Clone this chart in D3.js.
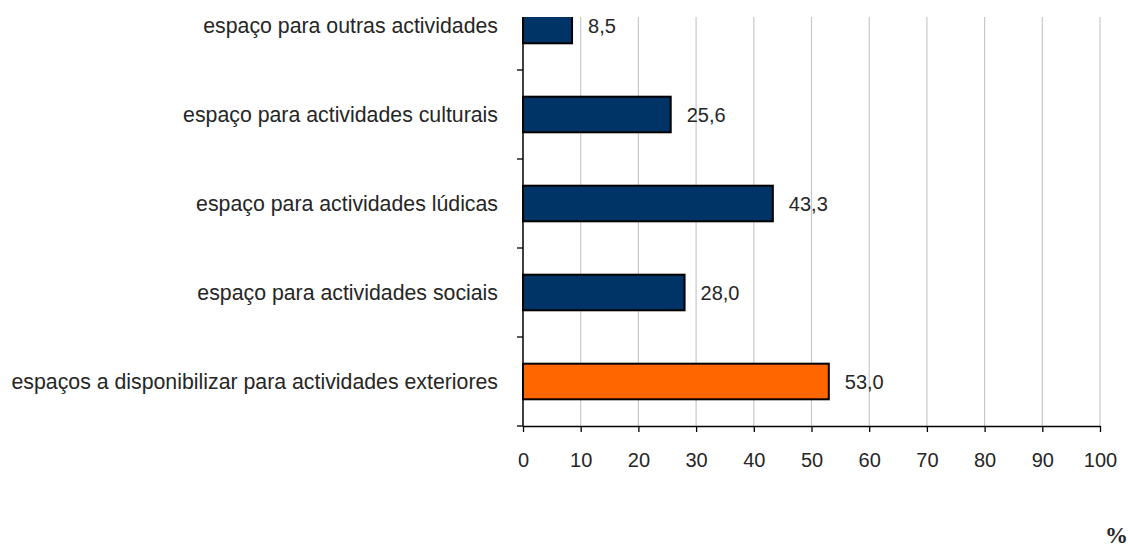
<!DOCTYPE html>
<html>
<head>
<meta charset="utf-8">
<script src="https://cdn.jsdelivr.net/npm/d3@7"></script>
<style>
  html, body { margin: 0; padding: 0; background: #fff; }
  svg { display: block; }
  text { font-family: "Liberation Sans", Arial, sans-serif; fill: #262626; }
</style>
</head>
<body>
<svg id="chart" width="1128" height="547"></svg>
<script>
// Categories, top to bottom
const categories = [
  "espaço para outras actividades",
  "espaço para actividades culturais",
  "espaço para actividades lúdicas",
  "espaço para actividades sociais",
  "espaços a disponibilizar para actividades exteriores"
];
const values = [8.5, 25.6, 43.3, 28.0, 53.0];
const highlighted = [false, false, false, false, true];
const xTicks = [0, 10, 20, 30, 40, 50, 60, 70, 80, 90, 100];
const unitLabel = "%";

const svg = d3.select("#chart");

const plot = { left: 523, right: 1100, top: 17, bottom: 426, bandTop: -19 };

const x = d3.scaleLinear().domain([0, 100]).range([plot.left, plot.right]);
const y = d3.scaleBand()
  .domain(categories)
  .range([plot.bandTop, plot.bottom])
  .paddingInner(0.6)
  .paddingOuter(0.3);

const fmt = v => v.toFixed(1).replace(".", ",");

svg.append("defs").append("clipPath").attr("id", "plotClip")
  .append("rect")
  .attr("x", plot.left - 10).attr("y", plot.top)
  .attr("width", plot.right - plot.left + 20).attr("height", plot.bottom - plot.top + 10);

// vertical gridlines
svg.append("g")
  .selectAll("line")
  .data(xTicks.filter(t => t > 0))
  .join("line")
  .attr("x1", d => x(d)).attr("x2", d => x(d))
  .attr("y1", plot.top).attr("y2", plot.bottom)
  .attr("stroke", "#c8c8c8")
  .attr("stroke-width", 1.2);

// bars
svg.append("g")
  .attr("clip-path", "url(#plotClip)")
  .selectAll("rect")
  .data(categories)
  .join("rect")
  .attr("x", x(0))
  .attr("y", d => y(d))
  .attr("width", (d, i) => x(values[i]) - x(0))
  .attr("height", y.bandwidth())
  .attr("fill", (d, i) => highlighted[i] ? "#ff6600" : "#003366")
  .attr("stroke", "#000")
  .attr("stroke-width", 2);

// value labels
svg.append("g")
  .selectAll("text")
  .data(categories)
  .join("text")
  .attr("x", (d, i) => x(values[i]) + 16)
  .attr("y", d => y(d) + y.bandwidth() / 2)
  .attr("dy", "0.36em")
  .attr("font-size", 20)
  .text((d, i) => fmt(values[i]));

// x axis
const xAxis = svg.append("g")
  .attr("transform", `translate(0,${plot.bottom})`)
  .call(d3.axisBottom(x).tickValues(xTicks).tickSize(6).tickPadding(21).tickSizeOuter(0)
    .tickFormat(d3.format("d")));
xAxis.select(".domain").attr("stroke", "#000").attr("stroke-width", 1.5);
xAxis.selectAll(".tick line").attr("stroke", "#000").attr("stroke-width", 1.3);
xAxis.selectAll(".tick text")
  .attr("font-size", 20)
  .attr("font-family", "Liberation Sans, Arial, sans-serif")
  .attr("fill", "#262626");

// y axis line and category boundary ticks
const step = y.step();
const boundaries = categories.map(c => y(c) - (step - y.bandwidth()) / 2)
  .concat([plot.bottom])
  .filter(b => b >= plot.top);
const yAxis = svg.append("g");
yAxis.append("line")
  .attr("x1", plot.left).attr("x2", plot.left)
  .attr("y1", plot.top).attr("y2", plot.bottom)
  .attr("stroke", "#000").attr("stroke-width", 1.5);
yAxis.selectAll("line.tick")
  .data(boundaries)
  .join("line")
  .attr("class", "tick")
  .attr("x1", plot.left - 6).attr("x2", plot.left)
  .attr("y1", d => d).attr("y2", d => d)
  .attr("stroke", "#000").attr("stroke-width", 1.3);

// category labels
svg.append("g")
  .selectAll("text")
  .data(categories)
  .join("text")
  .attr("x", plot.left - 25)
  .attr("y", d => y(d) + y.bandwidth() / 2)
  .attr("dy", "0.36em")
  .attr("text-anchor", "end")
  .attr("font-size", 21.3)
  .text(d => d);

// unit label
svg.append("text")
  .attr("x", 1105)
  .attr("y", 543)
  .style("font-family", "'Liberation Serif', serif")
  .attr("font-weight", "bold")
  .attr("font-size", 23)
  .text(unitLabel);
</script>
</body>
</html>
